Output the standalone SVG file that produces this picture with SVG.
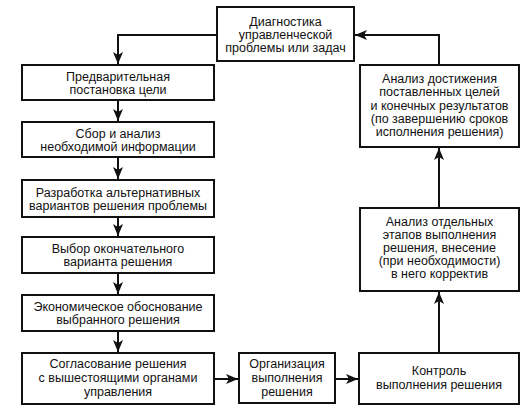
<svg xmlns="http://www.w3.org/2000/svg" width="530" height="411" viewBox="0 0 530 411">
<style>
.box{fill:#fff;stroke:#111;stroke-width:2}
.t{font-family:"Liberation Sans",Arial,sans-serif;font-size:12.5px;fill:#111;text-anchor:middle}
.c{fill:none;stroke:#111;stroke-width:2}
</style>
<defs>
<marker id="ah" viewBox="0 0 12 10" refX="12" refY="5" markerWidth="12" markerHeight="10" markerUnits="userSpaceOnUse" orient="auto">
<path d="M0,0 L12,5 L0,10 L3,5 Z" fill="#111"/>
</marker>
</defs>
<rect width="530" height="411" fill="#fff"/>
<g id="connectors">
<path class="c" d="M217,35 H118 V64" marker-end="url(#ah)"/>
<path class="c" d="M118,100 V121" marker-end="url(#ah)"/>
<path class="c" d="M118,157 V179" marker-end="url(#ah)"/>
<path class="c" d="M118,217 V236" marker-end="url(#ah)"/>
<path class="c" d="M118,273 V294" marker-end="url(#ah)"/>
<path class="c" d="M118,331 V352" marker-end="url(#ah)"/>
<path class="c" d="M213,379 H238" marker-end="url(#ah)"/>
<path class="c" d="M335,379 H358" marker-end="url(#ah)"/>
<path class="c" d="M439,353 V292" marker-end="url(#ah)"/>
<path class="c" d="M439,208 V148" marker-end="url(#ah)"/>
<path class="c" d="M439,65 V35 H355" marker-end="url(#ah)"/>
</g>
<g id="n_diag">
<rect class="box" x="217" y="7" width="137" height="54"/>
<text class="t" x="285.5" y="26">Диагностика</text>
<text class="t" x="285.5" y="39">управленческой</text>
<text class="t" x="285.5" y="52">проблемы или задач</text>
</g>
<g id="n1">
<rect class="box" x="22" y="65" width="192" height="35"/>
<text class="t" x="118" y="81">Предварительная</text>
<text class="t" x="118" y="94">постановка цели</text>
</g>
<g id="n2">
<rect class="box" x="22" y="122" width="192" height="35"/>
<text class="t" x="118" y="138">Сбор и анализ</text>
<text class="t" x="118" y="151">необходимой информации</text>
</g>
<g id="n3">
<rect class="box" x="22" y="180" width="192" height="37"/>
<text class="t" x="118" y="197">Разработка альтернативных</text>
<text class="t" x="118" y="210">вариантов решения проблемы</text>
</g>
<g id="n4">
<rect class="box" x="22" y="237" width="192" height="36"/>
<text class="t" x="118" y="253">Выбор окончательного</text>
<text class="t" x="118" y="266">варианта решения</text>
</g>
<g id="n5">
<rect class="box" x="22" y="295" width="192" height="36"/>
<text class="t" x="118" y="311">Экономическое обоснование</text>
<text class="t" x="118" y="324">выбранного решения</text>
</g>
<g id="n6">
<rect class="box" x="22" y="353" width="192" height="51"/>
<text class="t" x="118" y="368">Согласование решения</text>
<text class="t" x="118" y="382">с вышестоящими органами</text>
<text class="t" x="118" y="396">управления</text>
</g>
<g id="n_org">
<rect class="box" x="239" y="353" width="96" height="50"/>
<text class="t" x="287" y="368">Организация</text>
<text class="t" x="287" y="382">выполнения</text>
<text class="t" x="287" y="396">решения</text>
</g>
<g id="n_ctrl">
<rect class="box" x="359" y="353" width="160" height="51"/>
<text class="t" x="439" y="375">Контроль</text>
<text class="t" x="439" y="389">выполнения решения</text>
</g>
<g id="n_an2">
<rect class="box" x="360" y="208" width="159" height="83"/>
<text class="t" x="439.5" y="226">Анализ отдельных</text>
<text class="t" x="439.5" y="239">этапов выполнения</text>
<text class="t" x="439.5" y="252">решения, внесение</text>
<text class="t" x="439.5" y="265">(при необходимости)</text>
<text class="t" x="439.5" y="278">в него корректив</text>
</g>
<g id="n_an1">
<rect class="box" x="360" y="65" width="159" height="82"/>
<text class="t" x="439.5" y="83">Анализ достижения</text>
<text class="t" x="439.5" y="96">поставленных целей</text>
<text class="t" x="439.5" y="110">и конечных результатов</text>
<text class="t" x="439.5" y="123">(по завершению сроков</text>
<text class="t" x="439.5" y="136">исполнения решения)</text>
</g>
</svg>
